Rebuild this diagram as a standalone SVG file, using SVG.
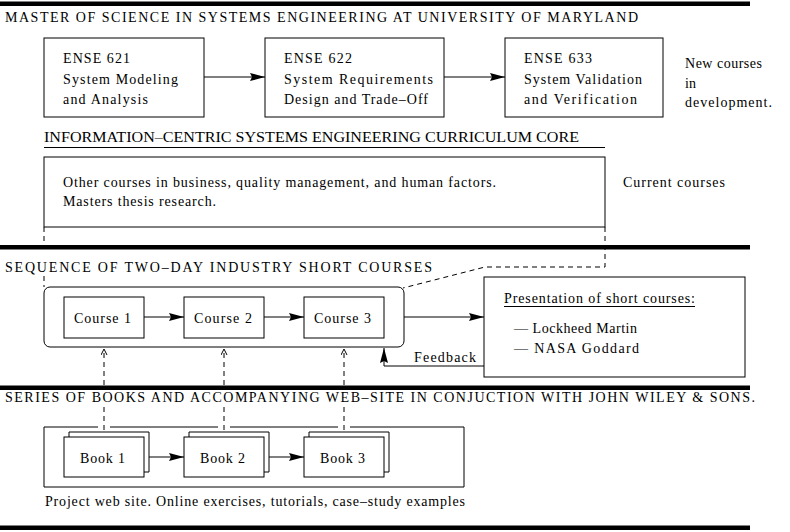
<svg xmlns="http://www.w3.org/2000/svg" width="790" height="532" viewBox="0 0 790 532">
<style>
text{font-family:"Liberation Serif","Times New Roman",serif;font-size:14px;fill:#000}
.hd{font-size:14px}
.hd2{font-size:14px}
.bx{fill:#fff;stroke:#000;stroke-width:1}
.ln{fill:none;stroke:#000;stroke-width:1}
.ds{fill:none;stroke:#000;stroke-width:1;stroke-dasharray:5 4}
.bar{fill:#000}
</style>
<defs>
<marker id="ah" markerUnits="userSpaceOnUse" markerWidth="16" markerHeight="9" refX="15" refY="4" orient="auto">
<path d="M0,0 L15,4 L0,8 L2,4 z" fill="#000"/>
</marker>
<marker id="oa" markerUnits="userSpaceOnUse" markerWidth="8" markerHeight="8" refX="6" refY="3" orient="auto">
<path d="M0,0 L6,3 L0,6" fill="none" stroke="#000" stroke-width="1"/>
</marker>
</defs>

<g id="bars">
<rect class="bar" x="0" y="1.5" width="750" height="4.5"/>
<rect class="bar" x="0" y="245" width="750" height="4.5"/>
<rect class="bar" x="0" y="385.5" width="750" height="4.5"/>
<rect class="bar" x="0" y="525.5" width="750" height="4.5"/>
</g>

<g id="headers">
<text class="hd" x="5" y="22" textLength="633" lengthAdjust="spacing">MASTER  OF  SCIENCE  IN SYSTEMS  ENGINEERING  AT  UNIVERSITY OF MARYLAND</text>
<text class="hd2" x="44" y="142" textLength="535" lengthAdjust="spacingAndGlyphs">INFORMATION–CENTRIC SYSTEMS ENGINEERING CURRICULUM CORE</text>
<line class="ln" x1="44" y1="147.5" x2="605" y2="147.5"/>
<text class="hd" x="5" y="272" textLength="427" lengthAdjust="spacing">SEQUENCE  OF  TWO–DAY  INDUSTRY  SHORT  COURSES</text>
<text class="hd" x="5" y="402" textLength="750" lengthAdjust="spacing">SERIES  OF  BOOKS  AND  ACCOMPANYING  WEB–SITE  IN  CONJUCTION  WITH  JOHN  WILEY  &amp;  SONS.</text>
</g>

<g id="ense621">
<rect class="bx" x="44" y="38" width="160" height="79"/>
<text x="63" y="62.5" textLength="67" lengthAdjust="spacing">ENSE 621</text>
<text x="63" y="84" textLength="115" lengthAdjust="spacing">System Modeling</text>
<text x="63" y="103.5" textLength="85" lengthAdjust="spacing">and Analysis</text>
</g>
<g id="ense622">
<rect class="bx" x="265" y="38" width="179" height="79"/>
<text x="284" y="62.5" textLength="68" lengthAdjust="spacing">ENSE 622</text>
<text x="284" y="84" textLength="149" lengthAdjust="spacing">System Requirements</text>
<text x="284" y="103.5" textLength="144" lengthAdjust="spacing">Design and Trade–Off</text>
</g>
<g id="ense633">
<rect class="bx" x="505" y="38" width="158" height="79"/>
<text x="524" y="62.5" textLength="68" lengthAdjust="spacing">ENSE 633</text>
<text x="524" y="84" textLength="118" lengthAdjust="spacing">System Validation</text>
<text x="524" y="103.5" textLength="113" lengthAdjust="spacing">and Verification</text>
</g>
<g id="newcourses">
<text x="685" y="68" textLength="77" lengthAdjust="spacing">New courses</text>
<text x="685" y="88">in</text>
<text x="685" y="107" textLength="87" lengthAdjust="spacing">development.</text>
</g>

<g id="core">
<rect class="bx" x="44" y="157" width="561" height="70"/>
<text x="63" y="187" textLength="433" lengthAdjust="spacing">Other courses in business, quality management, and human factors.</text>
<text x="63" y="206" textLength="153" lengthAdjust="spacing">Masters thesis research.</text>
</g>
<g id="currentcourses">
<text x="623" y="187" textLength="102" lengthAdjust="spacing">Current courses</text>
</g>

<g id="shortcourses">
<rect class="bx" x="44" y="287" width="360" height="60" rx="6" ry="6"/>
</g>
<g id="course1">
<rect class="bx" x="64" y="297" width="80" height="41"/>
<text x="74" y="323" textLength="57" lengthAdjust="spacing">Course 1</text>
</g>
<g id="course2">
<rect class="bx" x="184" y="297" width="80" height="41"/>
<text x="194" y="323" textLength="58" lengthAdjust="spacing">Course 2</text>
</g>
<g id="course3">
<rect class="bx" x="304" y="297" width="80" height="41"/>
<text x="314" y="323" textLength="57" lengthAdjust="spacing">Course 3</text>
</g>

<g id="presentation">
<rect class="bx" x="484" y="277" width="261" height="100"/>
<text x="504" y="303" textLength="191" lengthAdjust="spacing">Presentation of short courses:</text>
<line class="ln" x1="504" y1="306.5" x2="695" y2="306.5"/>
<text x="514" y="333" textLength="123" lengthAdjust="spacing">— Lockheed Martin</text>
<text x="514" y="353" textLength="125" lengthAdjust="spacing">— NASA Goddard</text>
</g>
<g id="feedback">
<text x="414" y="362" textLength="62" lengthAdjust="spacing">Feedback</text>
</g>

<g id="books">
<path class="ln" d="M44,427 H98 M110,427 H218 M230,427 H338 M350,427 H464 V487 H44 V427"/>
</g>
<g id="book1">
<polyline class="ln" points="69,437 69,432 149,432 149,472 144,472"/>
<rect class="bx" x="64" y="437" width="80" height="40"/>
<text x="80" y="463" textLength="45" lengthAdjust="spacing">Book 1</text>
</g>
<g id="book2">
<polyline class="ln" points="189,437 189,432 269,432 269,472 264,472"/>
<rect class="bx" x="184" y="437" width="80" height="40"/>
<text x="200" y="463" textLength="45" lengthAdjust="spacing">Book 2</text>
</g>
<g id="book3">
<polyline class="ln" points="309,437 309,432 389,432 389,472 384,472"/>
<rect class="bx" x="304" y="437" width="80" height="40"/>
<text x="320" y="463" textLength="45" lengthAdjust="spacing">Book 3</text>
</g>
<g id="website">
<text x="45" y="506" textLength="420" lengthAdjust="spacing">Project web site. Online exercises, tutorials, case–study examples</text>
</g>

<g id="connectors">
<line class="ln" x1="204" y1="77" x2="265" y2="77" marker-end="url(#ah)"/>
<line class="ln" x1="444" y1="77" x2="505" y2="77" marker-end="url(#ah)"/>
<line class="ln" x1="144" y1="317" x2="184" y2="317" marker-end="url(#ah)"/>
<line class="ln" x1="264" y1="317" x2="304" y2="317" marker-end="url(#ah)"/>
<line class="ln" x1="404" y1="317" x2="484" y2="317" marker-end="url(#ah)"/>
<polyline class="ln" points="484,366 384,366 384,348" marker-end="url(#ah)"/>
<line class="ln" x1="149" y1="457" x2="184" y2="457" marker-end="url(#ah)"/>
<line class="ln" x1="269" y1="457" x2="304" y2="457" marker-end="url(#ah)"/>
<line class="ds" x1="104" y1="385" x2="104" y2="349" marker-end="url(#oa)"/>
<line class="ds" x1="224" y1="385" x2="224" y2="349" marker-end="url(#oa)"/>
<line class="ds" x1="344" y1="385" x2="344" y2="349" marker-end="url(#oa)"/>
<line class="ds" x1="104" y1="407" x2="104" y2="432"/>
<line class="ds" x1="224" y1="407" x2="224" y2="432"/>
<line class="ds" x1="344" y1="407" x2="344" y2="432"/>
<line class="ds" x1="44" y1="227" x2="44" y2="245"/>
<line class="ds" x1="44" y1="276" x2="44" y2="287"/>
<path class="ds" d="M605,227 L605,267 L485,267 L403,288"/>
</g>
</svg>
